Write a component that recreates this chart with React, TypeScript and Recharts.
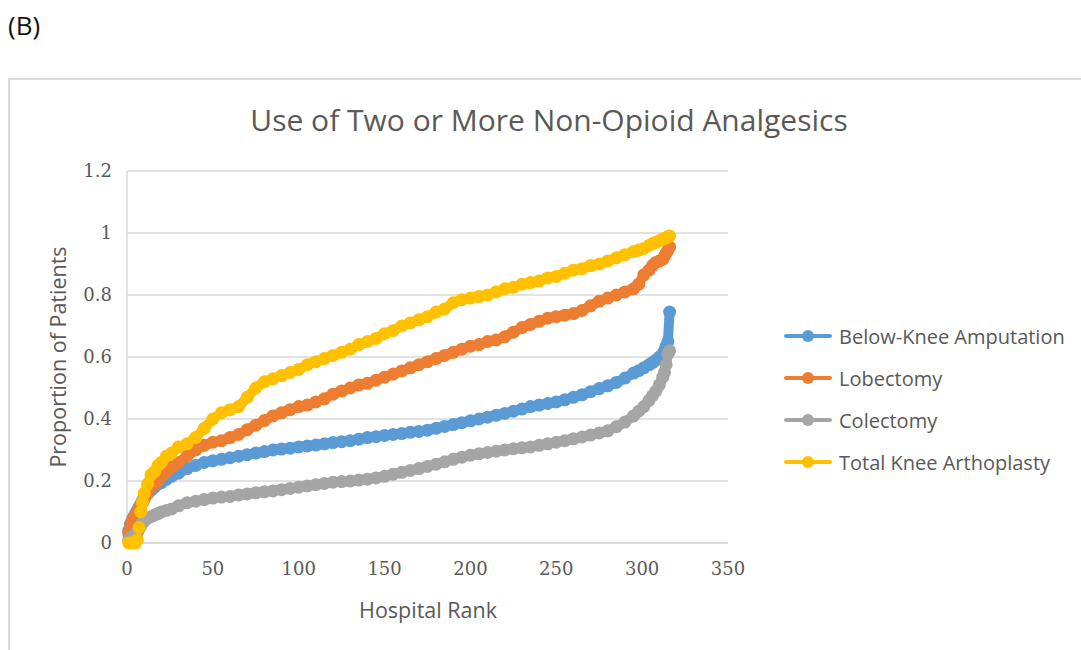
import { CartesianGrid, Line, LineChart, XAxis, YAxis } from "recharts";

// hospital rank (x) shared by all four series
const ranks = [
  1, 2, 3, 4, 5, 6, 7, 8, 9, 10, 12, 14, 16, 18, 20, 23, 26, 30, 35, 40, 45,
  50, 55, 60, 65, 70, 75, 80, 85, 90, 95, 100, 105, 110, 115, 120, 125, 130,
  135, 140, 145, 150, 155, 160, 165, 170, 175, 180, 185, 190, 195, 200, 205,
  210, 215, 220, 225, 230, 235, 240, 245, 250, 255, 260, 265, 270, 275, 280,
  285, 290, 295, 298, 301, 304, 306, 308, 310, 312, 313, 314, 315, 316,
];

const belowKnee = [
  0.04, 0.06, 0.075, 0.085, 0.095, 0.105, 0.115, 0.125, 0.135, 0.145, 0.16,
  0.17, 0.18, 0.19, 0.195, 0.205, 0.215, 0.225, 0.24, 0.25, 0.26, 0.265, 0.27,
  0.275, 0.28, 0.285, 0.29, 0.295, 0.3, 0.303, 0.306, 0.31, 0.313, 0.316, 0.32,
  0.324, 0.327, 0.33, 0.335, 0.34, 0.343, 0.347, 0.35, 0.353, 0.357, 0.36,
  0.364, 0.37, 0.376, 0.382, 0.388, 0.394, 0.4, 0.406, 0.412, 0.418, 0.425,
  0.432, 0.44, 0.445, 0.45, 0.455, 0.462, 0.47, 0.478, 0.488, 0.498, 0.507,
  0.518, 0.532, 0.548, 0.556, 0.565, 0.575, 0.582, 0.59, 0.6, 0.61, 0.62,
  0.635, 0.65, 0.745,
];

const lobectomy = [
  0.03, 0.05, 0.07, 0.08, 0.09, 0.1, 0.11, 0.12, 0.13, 0.14, 0.16, 0.18, 0.19,
  0.2, 0.215, 0.23, 0.245, 0.26, 0.28, 0.3, 0.315, 0.325, 0.33, 0.34, 0.35,
  0.365, 0.38, 0.395, 0.41, 0.42, 0.43, 0.44, 0.445, 0.455, 0.465, 0.48, 0.49,
  0.5, 0.51, 0.515, 0.525, 0.535, 0.545, 0.555, 0.565, 0.575, 0.585, 0.595,
  0.605, 0.615, 0.625, 0.635, 0.64, 0.65, 0.655, 0.665, 0.68, 0.695, 0.705,
  0.715, 0.725, 0.73, 0.735, 0.74, 0.75, 0.765, 0.78, 0.79, 0.8, 0.81, 0.82,
  0.835, 0.865, 0.88, 0.895, 0.905, 0.91, 0.915, 0.925, 0.935, 0.945, 0.955,
];

const colectomy = [
  0.01, 0.015, 0.02, 0.025, 0.03, 0.035, 0.045, 0.055, 0.065, 0.07, 0.08,
  0.085, 0.09, 0.095, 0.1, 0.105, 0.11, 0.12, 0.13, 0.135, 0.14, 0.145, 0.148,
  0.15, 0.155, 0.158, 0.162, 0.165, 0.168, 0.172, 0.176, 0.18, 0.184, 0.188,
  0.192, 0.196, 0.198, 0.2, 0.203, 0.206, 0.21, 0.215, 0.222, 0.228, 0.234,
  0.24, 0.247, 0.254, 0.262, 0.27, 0.277, 0.283, 0.288, 0.292, 0.296, 0.3,
  0.304, 0.307, 0.31, 0.315, 0.32, 0.325, 0.33, 0.336, 0.342, 0.348, 0.355,
  0.362, 0.375, 0.39, 0.41, 0.425, 0.44, 0.46, 0.475, 0.49, 0.51, 0.535, 0.55,
  0.575, 0.61, 0.62,
];

const totalKnee = [
  0, 0, 0, 0, 0, 0.01, 0.05, 0.1, 0.13, 0.16, 0.19, 0.22, 0.23, 0.25, 0.26,
  0.28, 0.29, 0.31, 0.32, 0.34, 0.37, 0.4, 0.42, 0.43, 0.44, 0.47, 0.5, 0.52,
  0.53, 0.54, 0.55, 0.56, 0.575, 0.585, 0.595, 0.605, 0.615, 0.625, 0.64, 0.65,
  0.66, 0.675, 0.685, 0.7, 0.71, 0.72, 0.73, 0.745, 0.755, 0.775, 0.785, 0.79,
  0.795, 0.8, 0.81, 0.82, 0.825, 0.835, 0.84, 0.845, 0.855, 0.86, 0.87, 0.88,
  0.885, 0.895, 0.9, 0.91, 0.92, 0.93, 0.94, 0.945, 0.95, 0.96, 0.965, 0.97,
  0.975, 0.98, 0.982, 0.985, 0.988, 0.99,
];

const xTicks = [0, 50, 100, 150, 200, 250, 300, 350];
const yTicks = [0, 0.2, 0.4, 0.6, 0.8, 1, 1.2];

const series = [
  { key: "bka", name: "Below-Knee Amputation", color: "#5B9BD5" },
  { key: "lob", name: "Lobectomy", color: "#ED7D31" },
  { key: "col", name: "Colectomy", color: "#A5A5A5" },
  { key: "tka", name: "Total Knee Arthoplasty", color: "#FFC000" },
];

const rows = ranks.map((rank, i) => ({
  rank,
  bka: belowKnee[i],
  lob: lobectomy[i],
  col: colectomy[i],
  tka: totalKnee[i],
}));

const textGray = "#595959";
const tickStyle = { fill: textGray, fontSize: 18, fontFamily: "'DejaVu Serif', serif" };
const sans = "'Open Sans', sans-serif";

export default function App() {
  return (
    <div style={{ position: "absolute", left: 0, top: 0, width: 1081, height: 650, overflow: "hidden", background: "#fff" }}>
      <div style={{ position: "absolute", left: 8, top: 7, fontSize: 26, fontFamily: sans, color: "#111" }}>(B)</div>
      <div
        style={{
          position: "absolute",
          left: 8,
          top: 78,
          width: 1073,
          height: 572,
          borderTop: "2px solid #d9d9d9",
          borderLeft: "2px solid #d9d9d9",
          boxSizing: "border-box",
        }}
      />
      <div
        style={{
          position: "absolute",
          left: 0,
          width: 1098,
          top: 99,
          textAlign: "center",
          fontSize: 30,
          fontFamily: sans,
          fontWeight: 400,
          color: textGray,
        }}
      >
        Use of Two or More Non-Opioid Analgesics
      </div>

      <div style={{ position: "absolute", left: 0, top: 0 }}>
        <LineChart width={1081} height={650} data={rows} margin={{ top: 171, right: 353, bottom: 67, left: 67 }}>
          <CartesianGrid vertical={false} stroke="#d9d9d9" strokeWidth={1.5} />
          <XAxis
            dataKey="rank"
            type="number"
            domain={[0, 350]}
            ticks={xTicks}
            height={40}
            tick={tickStyle}
            tickLine={false}
            tickMargin={13}
            axisLine={{ stroke: "#d9d9d9", strokeWidth: 1.5 }}
          />
          <YAxis
            type="number"
            domain={[0, 1.2]}
            ticks={yTicks}
            width={60}
            tick={tickStyle}
            tickLine={false}
            tickMargin={9}
            axisLine={{ stroke: "#d9d9d9", strokeWidth: 1.5 }}
          />
          {series.map((s) => (
            <Line
              key={s.key}
              dataKey={s.key}
              name={s.name}
              type="linear"
              stroke={s.color}
              strokeWidth={10}
              strokeLinejoin="round"
              dot={{ r: 6.5, fill: s.color, stroke: s.color, strokeWidth: 0 }}
              isAnimationActive={false}
            />
          ))}
        </LineChart>
      </div>

      <div
        style={{
          position: "absolute",
          left: 57,
          top: 357,
          transform: "translate(-50%, -50%) rotate(-90deg)",
          whiteSpace: "nowrap",
          fontSize: 21.5,
          fontFamily: sans,
          color: textGray,
        }}
      >
        Proportion of Patients
      </div>
      <div
        style={{
          position: "absolute",
          left: 428,
          top: 609,
          transform: "translate(-50%, -50%)",
          whiteSpace: "nowrap",
          fontSize: 21.5,
          fontFamily: sans,
          color: textGray,
        }}
      >
        Hospital Rank
      </div>

      {series.map((s, i) => (
        <div
          key={s.key}
          style={{ position: "absolute", left: 784, top: 336 + i * 42 - 15, height: 30, display: "flex", alignItems: "center" }}
        >
          <svg width={50} height={14}>
            <line x1={2} y1={7} x2={46} y2={7} stroke={s.color} strokeWidth={4} strokeLinecap="round" />
            <circle cx={24} cy={7} r={6} fill={s.color} />
          </svg>
          <span style={{ marginLeft: 5, fontSize: 20, fontFamily: sans, color: textGray }}>{s.name}</span>
        </div>
      ))}
    </div>
  );
}
